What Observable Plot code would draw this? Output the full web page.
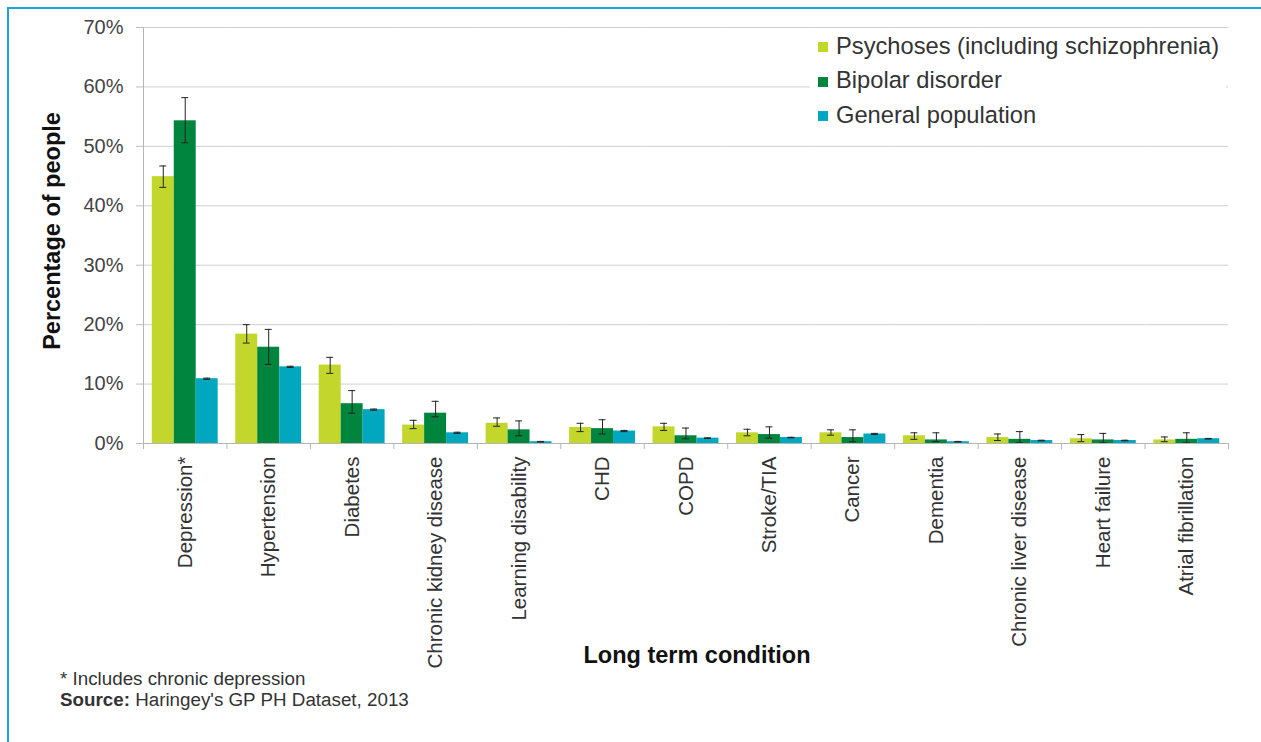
<!DOCTYPE html>
<html>
<head>
<meta charset="utf-8">
<script src="https://cdn.jsdelivr.net/npm/d3@7"></script>
<script src="https://cdn.jsdelivr.net/npm/@observablehq/plot@0.6"></script>
<style>
  html, body { margin: 0; padding: 0; background: #fff; }
  #wrap { position: relative; width: 1261px; height: 742px; overflow: hidden; font-family: "Liberation Sans", Arial, sans-serif; }
  #wrap svg { position: absolute; left: 0; top: 0; }
  .border-top { position: absolute; left: 8px; top: 7px; width: 1253px; height: 2px; background: #1aa6db; }
  .border-left { position: absolute; left: 7px; top: 7px; width: 2px; height: 735px; background: #1aa6db; }
  .ytitle { position: absolute; left: 52px; top: 231px; transform: translate(-50%, -50%) rotate(-90deg); font-weight: bold; font-size: 23.5px; color: #111; white-space: nowrap; }
  .xtitle { position: absolute; left: 697px; top: 655px; transform: translate(-50%, -50%); font-weight: bold; font-size: 23.5px; color: #111; white-space: nowrap; }
  .note { position: absolute; left: 60px; font-size: 18.8px; line-height: 21px; color: #333; white-space: nowrap; }
  #legend { position: absolute; left: 810px; top: 30px; width: 416px; height: 104px; background: #fff; }
  .item { position: absolute; left: 8px; height: 30px; display: flex; align-items: center; font-size: 23.7px; color: #333; white-space: nowrap; }
  .sw { width: 10px; height: 10px; margin-right: 8px; margin-top: 2px; }
</style>
</head>
<body>
<div id="wrap">
  <div class="border-top"></div>
  <div class="border-left"></div>
</div>
<script>
const categories = ["Depression*", "Hypertension", "Diabetes", "Chronic kidney disease", "Learning disability", "CHD", "COPD", "Stroke/TIA", "Cancer", "Dementia", "Chronic liver disease", "Heart failure", "Atrial fibrillation"];
const series = ["Psychoses (including schizophrenia)", "Bipolar disorder", "General population"];
const colors = ["#c3d62c", "#00853f", "#00a7bf"];

const psychoses   = [44.9, 18.4, 13.2, 3.1, 3.4, 2.7, 2.8, 1.8, 1.8, 1.3, 1.0, 0.8, 0.6];
const psychosesLo = [43.1, 16.9, 11.8, 2.5, 2.9, 2.0, 2.2, 1.3, 1.4, 0.7, 0.5, 0.3, 0.3];
const psychosesHi = [46.7, 20.0, 14.5, 3.9, 4.3, 3.4, 3.4, 2.4, 2.3, 1.8, 1.6, 1.5, 1.1];

const bipolar   = [54.3, 16.2, 6.7, 5.1, 2.3, 2.5, 1.3, 1.5, 1.0, 0.6, 0.7, 0.6, 0.7];
const bipolarLo = [50.6, 13.3, 5.1, 4.5, 1.3, 1.6, 0.8, 0.9, 0.3, 0.3, 0.1, 0.1, 0.1];
const bipolarHi = [58.2, 19.2, 8.9, 7.1, 3.8, 4.0, 2.6, 2.8, 2.3, 1.8, 2.0, 1.7, 1.8];

const general   = [10.9, 12.9, 5.7, 1.8, 0.3, 2.1, 0.9, 1.0, 1.6, 0.3, 0.5, 0.5, 0.8];
const generalLo = [10.8, 12.8, 5.6, 1.7, 0.25, 2.0, 0.85, 0.95, 1.5, 0.25, 0.45, 0.45, 0.75];
const generalHi = [11.0, 13.0, 5.8, 1.9, 0.35, 2.2, 0.95, 1.05, 1.7, 0.35, 0.55, 0.55, 0.85];

const yTicks = [0, 10, 20, 30, 40, 50, 60, 70];

const seriesValues = [
  [psychoses, psychosesLo, psychosesHi],
  [bipolar, bipolarLo, bipolarHi],
  [general, generalLo, generalHi]
];
const data = [];
categories.forEach((c, i) => {
  series.forEach((s, j) => {
    const [v, lo, hi] = seriesValues[j];
    data.push({category: c, series: s, value: v[i], lo: lo[i], hi: hi[i]});
  });
});

const chart = Plot.plot({
  width: 1261,
  height: 742,
  marginLeft: 143,
  marginRight: 33,
  marginTop: 27,
  marginBottom: 299,
  style: {fontFamily: "'Liberation Sans', Arial, sans-serif", fontSize: "20px", color: "#444", background: "transparent"},
  fx: {domain: categories, padding: 0, round: false, label: null},
  x: {domain: series, axis: null, paddingInner: 0, paddingOuter: 0.4, round: false},
  y: {domain: [0, 70], label: null},
  color: {domain: series, range: colors},
  marks: [
    Plot.gridY(yTicks, {stroke: "#cfcfcf", strokeOpacity: 1}),
    Plot.axisY(yTicks, {tickFormat: d => d + "%", tickSize: 7, tickPadding: 13, stroke: "#bdbdbd", label: null, fontSize: 20}),
    Plot.axisFx({anchor: "bottom", tickRotate: -90, tickSize: 0, tickPadding: 13, label: null, fontSize: 20.5, fill: "#333"}),
    Plot.barY(data, {fx: "category", x: "series", y: "value", fill: "series"}),
    Plot.ruleX(data, {fx: "category", x: "series", y1: "lo", y2: "hi", stroke: "#222", strokeWidth: 1}),
    Plot.tickY(data, {fx: "category", x: "series", y: "lo", stroke: "#222", strokeWidth: 1, insetLeft: 7.5, insetRight: 7.5}),
    Plot.tickY(data, {fx: "category", x: "series", y: "hi", stroke: "#222", strokeWidth: 1, insetLeft: 7.5, insetRight: 7.5})
  ]
});

const wrap = document.getElementById("wrap");
wrap.prepend(chart);

// axis lines and boundary ticks drawn from the chart's own scales
const fx = chart.scale("fx");
const y = chart.scale("y");
const svg = d3.select(chart);
const g = svg.append("g").attr("stroke", "#b5b5b5").attr("stroke-width", 1);
const left = fx.apply(categories[0]);
const right = fx.apply(categories[categories.length - 1]) + fx.bandwidth;
g.append("line").attr("x1", left + 0.5).attr("x2", left + 0.5).attr("y1", y.apply(70)).attr("y2", y.apply(0));
g.append("line").attr("x1", left).attr("x2", right).attr("y1", y.apply(0) + 0.5).attr("y2", y.apply(0) + 0.5);
const bounds = categories.map(c => fx.apply(c)).concat([right]);
g.selectAll(".bt").data(bounds).join("line")
  .attr("x1", d => d + 0.5).attr("x2", d => d + 0.5)
  .attr("y1", y.apply(0)).attr("y2", y.apply(0) + 6);

// titles, notes, legend
const yt = document.createElement("div"); yt.className = "ytitle"; yt.textContent = "Percentage of people"; wrap.appendChild(yt);
const xt = document.createElement("div"); xt.className = "xtitle"; xt.textContent = "Long term condition"; wrap.appendChild(xt);
const n1 = document.createElement("div"); n1.className = "note"; n1.style.top = "668px"; n1.textContent = "* Includes chronic depression"; wrap.appendChild(n1);
const n2 = document.createElement("div"); n2.className = "note"; n2.style.top = "689px"; n2.innerHTML = "<b>Source:</b> Haringey's GP PH Dataset, 2013"; wrap.appendChild(n2);

const legend = document.createElement("div"); legend.id = "legend";
series.forEach((s, i) => {
  const it = document.createElement("div"); it.className = "item";
  it.style.top = (1 + i * 34.5) + "px";
  const sw = document.createElement("span"); sw.className = "sw"; sw.style.background = colors[i];
  const tx = document.createElement("span"); tx.textContent = s;
  it.appendChild(sw); it.appendChild(tx); legend.appendChild(it);
});
wrap.appendChild(legend);
</script>
</body>
</html>
